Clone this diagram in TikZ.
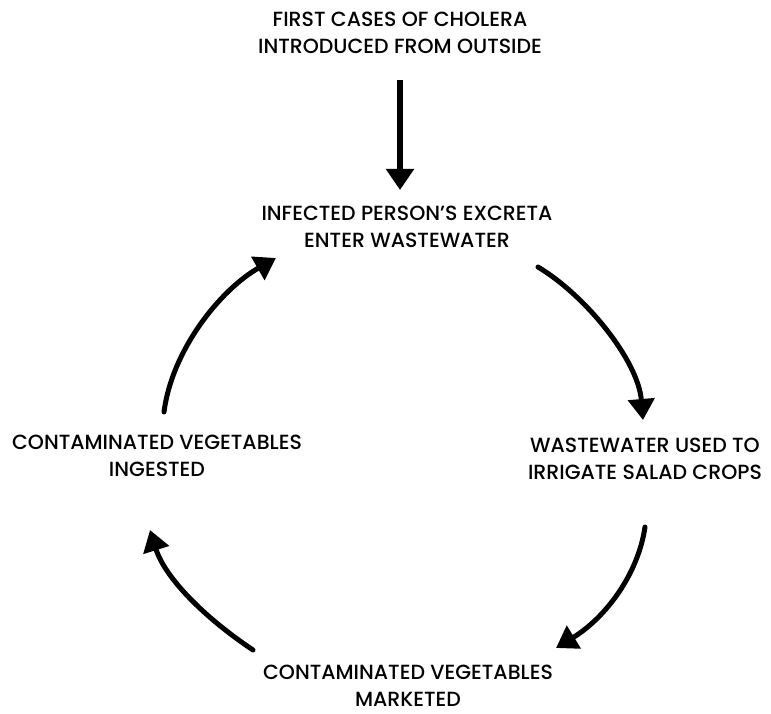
\documentclass[tikz,border=0pt]{standalone}
\usepackage{fontspec}
\setmainfont{Poppins Medium}
\usetikzlibrary{arrows.meta}
\begin{document}
\begin{tikzpicture}[x=1pt,y=-1pt,
  lbl/.style={align=center,inner sep=0pt,font=\fontsize{20.5}{27}\selectfont},
  flow/.style={line width=5pt,line cap=round,-{Triangle[width=26pt,length=21pt]}}]
\useasboundingbox (0,0) rectangle (771,714);
\node[lbl] (first) at (400,33) {FIRST CASES OF CHOLERA\\INTRODUCED FROM OUTSIDE};
\node[lbl] (excreta) at (407,227) {INFECTED PERSON'S EXCRETA\\ENTER WASTEWATER};
\node[lbl] (irrig) at (645,459) {WASTEWATER USED TO\\IRRIGATE SALAD CROPS};
\node[lbl] (market) at (408,686) {CONTAMINATED VEGETABLES\\MARKETED};
\node[lbl] (ingest) at (157,456) {CONTAMINATED VEGETABLES\\INGESTED};
\coordinate (a1s) at (400,80);
\coordinate (a1e) at (400,190);
\draw[line width=6pt,-{Triangle[width=27pt,length=21pt]}] (a1s) -- (a1e);
\coordinate (a2s) at (538,267);
\coordinate (a2e) at (643,420);
\draw[flow] (a2s) .. controls (585,295) and (638,360) .. (a2e);
\coordinate (a3s) at (645,527);
\coordinate (a3e) at (556,648);
\draw[flow] (a3s) .. controls (638,575) and (605,618) .. (a3e);
\coordinate (a4s) at (253,650);
\coordinate (a4e) at (150,530);
\draw[flow] (a4s) .. controls (205,618) and (165,578) .. (a4e);
\coordinate (a5s) at (164,412);
\coordinate (a5e) at (276,258);
\draw[flow] (a5s) .. controls (172,350) and (220,290) .. (a5e);
\end{tikzpicture}
\end{document}
